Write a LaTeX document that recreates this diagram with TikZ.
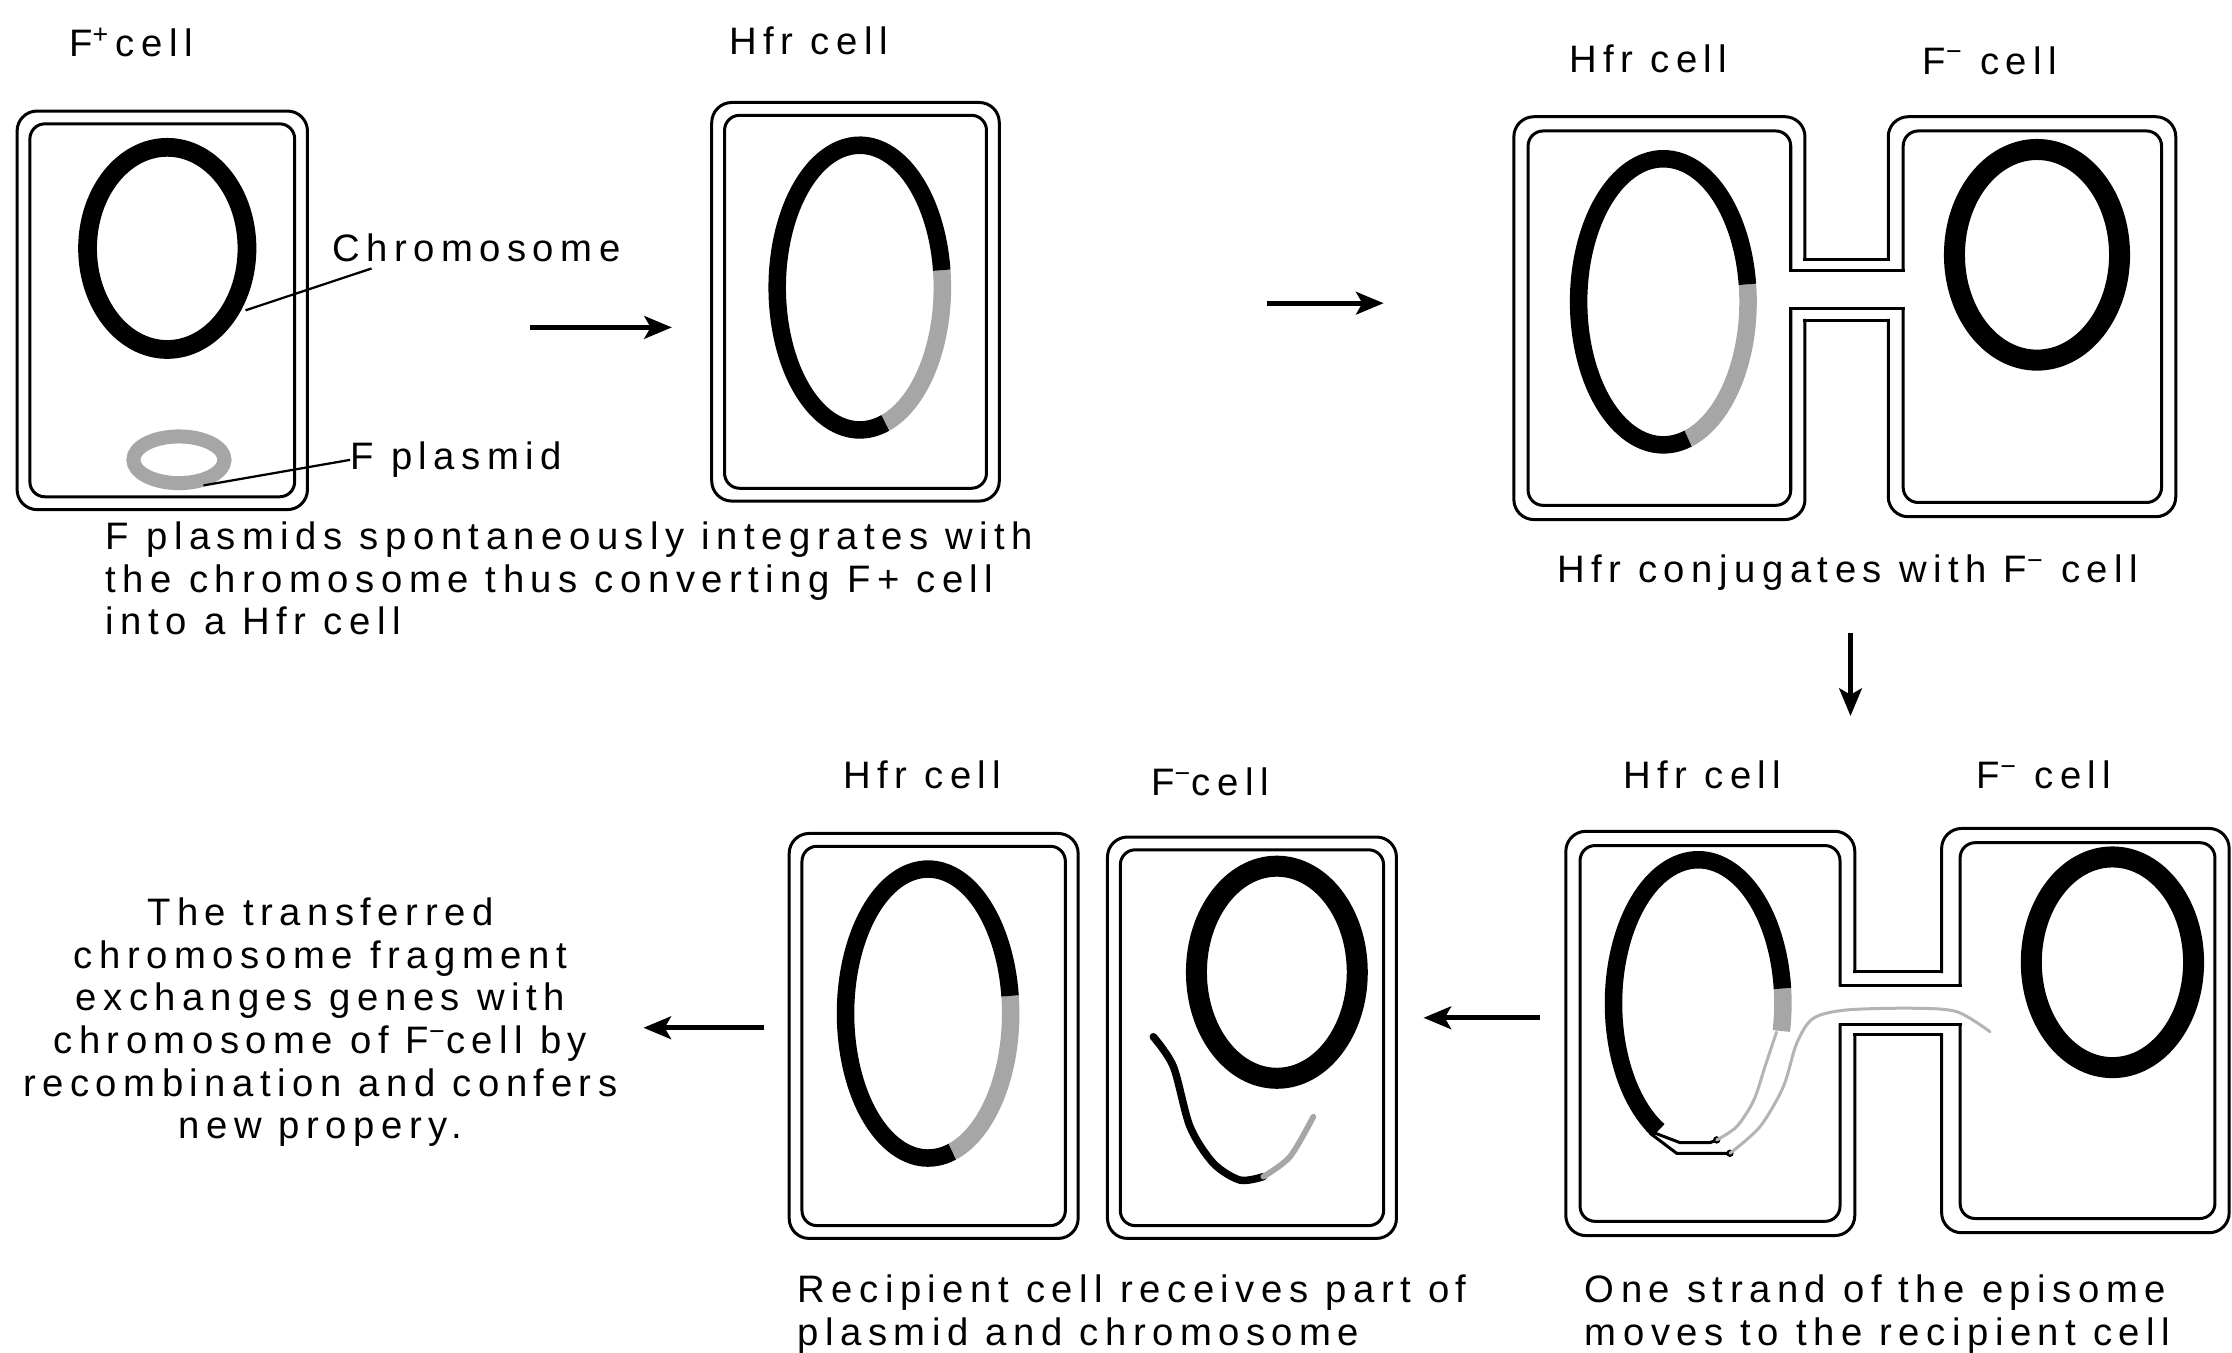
\documentclass[tikz,border=0pt]{standalone}
\usepackage{fontspec}
\setmainfont{Liberation Sans}
\newfontfamily\labfont[LetterSpace=17]{Liberation Sans}
\usetikzlibrary{arrows.meta}
\definecolor{plasgray}{HTML}{A6A6A6}
\definecolor{strandgray}{HTML}{B4B4B4}
\newcommand{\fminus}{F\textsuperscript{\char"2212}}
% a single cell with a double wall
\newcommand{\cellbox}[4]{%
  \draw[wall,rounded corners=8pt] (#1,#2) rectangle (#3,#4);
  \draw[wall,rounded corners=6pt] (#1+9,#2+9) rectangle (#3-9,#4-9);}
\begin{document}
\begin{tikzpicture}[x=0.02cm,y=-0.02cm,
  wall/.style={line width=1.2pt,line cap=rect},
  chrom/.style={line width=7pt},
  fchrom/.style={line width=8.4pt},
  fseg/.style={line width=7pt,color=plasgray},
  lead/.style={line width=0.9pt},
  strand/.style={line width=1.2pt,color=strandgray,line cap=round},
  lab/.style={font=\labfont\fontsize{15.3pt}{17.07pt}\selectfont,inner sep=0pt},
  arr/.style={line width=2pt,-{Stealth[length=11pt,width=9pt,inset=2.5pt]}}]
\fill[white] (0,0) rectangle (1568,950);
\useasboundingbox (0,0) rectangle (1568,950);

% ---------- F+ cell ----------
\node[lab,anchor=base] (fplus) at (92,40) {F\textsuperscript{+}\,cell};
\cellbox{12}{78}{216}{358}
\draw[line width=7.5pt] (117.5,174.5) ellipse[x radius=56,y radius=71];
\draw[line width=5.6pt,color=plasgray] (125.7,323) ellipse[x radius=32,y radius=16.4];
\node[lab,anchor=base west] (chl) at (233,184) {Chromosome};
\coordinate (chtip) at (172.5,218);
\draw[lead] ([shift={(28,4)}]chl.south west) -- (chtip);
\node[lab,anchor=base west] (fpl) at (246,330) {F plasmid};
\coordinate (pltip) at (143,341);
\draw[lead] (fpl.west) -- (pltip);
% multi-line nodes are anchored at the baseline of their last line
\node[lab,align=left,anchor=base west] (cap1) at (74,446)
  {F plasmids spontaneously integrates with\\the chromosome thus converting F+ cell\\into a Hfr cell};

\coordinate (a1s) at (372,230);
\coordinate (a1e) at (472,230);
\draw[arr] (a1s) -- (a1e);

% ---------- Hfr cell ----------
\node[lab,anchor=base] (hfr2) at (568,38) {Hfr cell};
\cellbox{500}{72}{702}{352}
\begin{scope}[shift={(604,202)}]
  \draw[fseg] (-7:58 and 100) arc[start angle=-7,end angle=72,x radius=58,y radius=100];
  \draw[chrom] (72:58 and 100) arc[start angle=72,end angle=353,x radius=58,y radius=100];
\end{scope}

\coordinate (a2s) at (890,213);
\coordinate (a2e) at (972,213);
\draw[arr] (a2s) -- (a2e);

% ---------- Hfr conjugates with F- ----------
\node[lab,anchor=base] (hfr3) at (1158,51) {Hfr cell};
\node[lab,anchor=base] (fm3) at (1398,52) {\fminus{} cell};
% outer wall
\draw[wall,rounded corners=8pt] (1268,182) -- (1268,82) -- (1063.5,82) -- (1063.5,365) -- (1268,365) -- (1268,225);
\draw[wall] (1268,182) -- (1326.5,182) (1268,225) -- (1326.5,225);
\draw[wall,rounded corners=8pt] (1326.5,182) -- (1326.5,82) -- (1528.5,82) -- (1528.5,363) -- (1326.5,363) -- (1326.5,225);
% inner wall
\draw[wall,rounded corners=6pt] (1258,190) -- (1258,92) -- (1073.5,92) -- (1073.5,355) -- (1258,355) -- (1258,217);
\draw[wall] (1258,190) -- (1337,190) (1258,217) -- (1337,217);
\draw[wall,rounded corners=6pt] (1337,190) -- (1337,92) -- (1518.5,92) -- (1518.5,353) -- (1337,353) -- (1337,217);
\begin{scope}[shift={(1168.5,212)}]
  \draw[fseg] (-7:59.5 and 100.5) arc[start angle=-7,end angle=73,x radius=59.5,y radius=100.5];
  \draw[chrom] (73:59.5 and 100.5) arc[start angle=73,end angle=353,x radius=59.5,y radius=100.5];
\end{scope}
\draw[fchrom] (1431,179) ellipse[x radius=58,y radius=74];
\node[lab,anchor=base] (cap3) at (1298,409) {Hfr conjugates with \fminus{} cell};

\coordinate (a3s) at (1300,445);
\coordinate (a3e) at (1300,503);
\draw[arr] (a3s) -- (a3e);

% ---------- one strand moves ----------
\node[lab,anchor=base] (hfr4) at (1196,554) {Hfr cell};
\node[lab,anchor=base] (fm4) at (1436,554) {\fminus{} cell};
\draw[wall,rounded corners=8pt] (1303,682.6) -- (1303,584) -- (1100,584) -- (1100,868) -- (1303,868) -- (1303,727);
\draw[wall] (1303,682.6) -- (1364,682.6) (1303,727) -- (1364,727);
\draw[wall,rounded corners=8pt] (1364,682.6) -- (1364,582) -- (1566,582) -- (1566,866) -- (1364,866) -- (1364,727);
\draw[wall,rounded corners=6pt] (1292.6,692) -- (1292.6,594) -- (1110,594) -- (1110,858) -- (1292.6,858) -- (1292.6,720);
\draw[wall] (1292.6,692) -- (1377,692) (1292.6,720) -- (1377,720);
\draw[wall,rounded corners=6pt] (1377,692) -- (1377,592) -- (1556,592) -- (1556,856) -- (1377,856) -- (1377,720);
\begin{scope}[shift={(1193,705)}]
  \draw[fseg] (-6:59.5 and 101) arc[start angle=-6,end angle=11,x radius=59.5,y radius=101];
  \draw[chrom] (118:59.5 and 101) arc[start angle=118,end angle=354,x radius=59.5,y radius=101];
\end{scope}
% nicked bottom of the donor chromosome
\draw[line width=1.2pt] (1156.8,793.8) -- (1180.2,802.7) -- (1201.3,802.7) -- (1206,800.8);
\draw[line width=1.2pt] (1159,796) -- (1177.9,810.2) -- (1215.3,810.2);
\fill (1206,800.8) circle[radius=2.6];
\fill (1215.3,810.2) circle[radius=2.6];
% remaining strand and transferred strand
\draw[strand] plot[smooth] coordinates {(1248,725) (1240,749) (1232,773) (1220,791.5) (1206,800.8)};
\draw[strand] plot[smooth] coordinates {(1215.3,810.2) (1236.4,791.5) (1252.8,763.4) (1262.2,732.9) (1273.8,715.4) (1297.3,709.5) (1344.1,708.3) (1374.6,710.7) (1398,724.8)};
\draw[fchrom] (1484,676) ellipse[x radius=57,y radius=74];
\node[lab,align=left,anchor=base west] (cap4) at (1113,945)
  {One strand of the episome\\moves to the recipient cell};

\coordinate (a4s) at (1082,715);
\coordinate (a4e) at (1000,715);
\draw[arr] (a4s) -- (a4e);

% ---------- separated cells ----------
\node[lab,anchor=base] (hfr5) at (648,554) {Hfr cell};
\node[lab,anchor=base] (fm5) at (850,559) {\fminus{}cell};
\cellbox{554.4}{585.5}{757.4}{870}
\cellbox{778}{588}{981}{870}
\begin{scope}[shift={(652,712)}]
  \draw[fseg] (-7:58 and 101.5) arc[start angle=-7,end angle=73,x radius=58,y radius=101.5];
  \draw[chrom] (73:58 and 101.5) arc[start angle=73,end angle=353,x radius=58,y radius=101.5];
\end{scope}
\draw[fchrom] (897,683) ellipse[x radius=56.5,y radius=74.5];
\draw[line width=3pt,line cap=round] plot[smooth] coordinates {(810.2,728.3) (824.3,749.3) (836,791.5) (852.4,817.2) (871.1,829) (887.5,826.6)};
\draw[line width=2.3pt,color=plasgray,line cap=round] plot[smooth] coordinates {(887.5,826.6) (906.2,812.6) (922.6,784.5)};
\node[lab,align=left,anchor=base west] (cap5) at (560,945)
  {Recipient cell receives part of\\plasmid and chromosome};

\coordinate (a5s) at (537,722);
\coordinate (a5e) at (452,722);
\draw[arr] (a5s) -- (a5e);

% ---------- recombination ----------
\node[lab,align=center,anchor=base] (cap6) at (225,800)
  {The transferred\\chromosome fragment\\exchanges genes with\\chromosome of \fminus{}cell by\\recombination and confers\\new propery.};
\end{tikzpicture}
\end{document}
